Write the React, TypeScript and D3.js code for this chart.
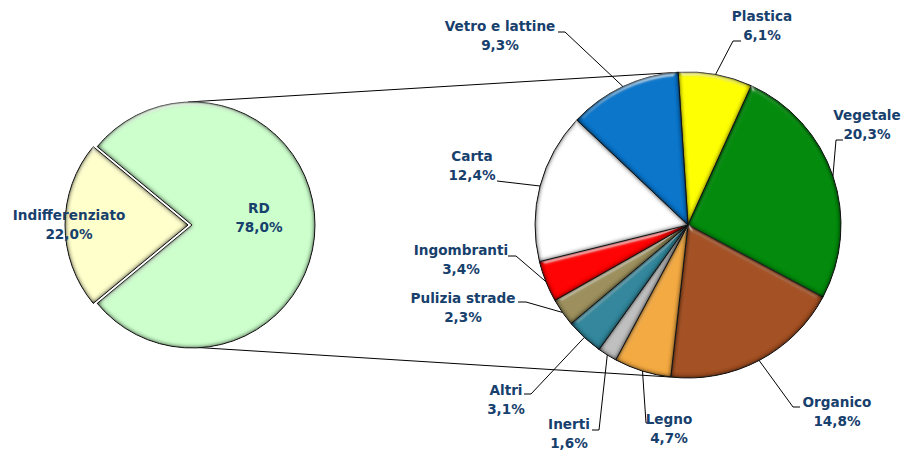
import React from "react";
import * as d3 from "d3";

// ---- data ----
const mainCategories = ["RD", "Indifferenziato"];
const mainValues = [78.0, 22.0];
const mainColors = ["#CCFFCC", "#FFFFCC"];

const detailCategories = [
  "Plastica",
  "Vegetale",
  "Organico",
  "Legno",
  "Inerti",
  "Altri",
  "Pulizia strade",
  "Ingombranti",
  "Carta",
  "Vetro e lattine",
];
const detailValues = [6.1, 20.3, 14.8, 4.7, 1.6, 3.1, 2.3, 3.4, 12.4, 9.3];
const detailColors = [
  "#FFFF00",
  "#008A0B",
  "#A34F22",
  "#F3A941",
  "#BFBFBF",
  "#31869B",
  "#9C8F5C",
  "#FF0000",
  "#FFFFFF",
  "#0874CA",
];

// ---- layout (label anchor positions, not data) ----
const detailLabelPos: [number, number][] = [
  [762, 21],
  [867, 120],
  [837, 407],
  [669, 424],
  [569, 429],
  [506, 395],
  [463, 303],
  [461, 255],
  [472, 161],
  [500, 31],
];
const detailLeaderStart: [number, number][][] = [
  [[741, 41], [733, 41]],
  [[843, 140], [836, 140]],
  [[800, 407], [793, 407]],
  [[649, 423], [646, 423]],
  [[592, 430], [599, 430]],
  [[524, 394], [531, 394]],
  [[518, 302], [526, 302]],
  [[508, 256], [516, 256]],
  [[497, 181]],
  [[558, 32], [565, 32]],
];
const mainLabelPos: [number, number][] = [
  [259, 213],
  [69, 220],
];

const W = 906;
const H = 453;
const textColor = "#17406D";
const fmt = (v: number) => d3.format(".1f")(v).replace(".", ",") + "%";
const deg = Math.PI / 180;

export default function App() {
  // left pie
  const lcx = 188, lcy = 225, lr = 123;
  const lIndiffSpan = (mainValues[1] / d3.sum(mainValues)) * 360;
  const leftPie = d3
    .pie<number>()
    .sort(null)
    .value((d) => d)
    .startAngle((90 - (360 - lIndiffSpan) / 2) * deg)
    .endAngle((90 - (360 - lIndiffSpan) / 2 + 360) * deg)(mainValues);
  const leftArc = d3.arc<d3.PieArcDatum<number>>().innerRadius(0).outerRadius(lr);

  // right pie
  const rcx = 688, rcy = 225, rr = 153;
  const rStart = -3.7 * deg;
  const rightPie = d3
    .pie<number>()
    .sort(null)
    .value((d) => d)
    .startAngle(rStart)
    .endAngle(rStart + 2 * Math.PI)(detailValues);
  const rightArc = d3.arc<d3.PieArcDatum<number>>().innerRadius(0).outerRadius(rr);

  const polar = (cx: number, cy: number, r: number, a: number): [number, number] => [
    cx + r * Math.sin(a),
    cy - r * Math.cos(a),
  ];

  // connector lines
  const topL: [number, number] = [lcx, lcy - lr];
  const botL: [number, number] = [lcx + 2, lcy + lr - 1];
  const topR = polar(rcx, rcy, rr, rightPie[0].startAngle);
  const botR = polar(rcx, rcy, rr, rightPie[2].endAngle);

  const line = d3.line();

  return (
    <svg
      width={W}
      height={H}
      style={{ position: "absolute", left: 0, top: 0, background: "#fff" }}
      fontFamily="'DejaVu Sans', Verdana, sans-serif"
      fontWeight="bold"
      fontSize={13.6}
    >
      <defs>
        <filter id="bevel" x="-10%" y="-10%" width="120%" height="120%" colorInterpolationFilters="sRGB">
          <feGaussianBlur in="SourceAlpha" stdDeviation="2.6" result="blur" />
          <feComposite in="SourceAlpha" in2="blur" operator="arithmetic" k1="0" k2="1.8" k3="-1.8" k4="0" result="edge" />
          <feFlood floodColor="#000" floodOpacity="0.6" result="dark" />
          <feComposite in="dark" in2="edge" operator="in" result="inner" />
          <feSpecularLighting in="blur" surfaceScale="3" specularConstant="0.6" specularExponent="25" lightingColor="#ffffff" result="spec">
            <feDistantLight azimuth="260" elevation="30" />
          </feSpecularLighting>
          <feComposite in="spec" in2="SourceAlpha" operator="in" result="specIn" />
          <feMerge>
            <feMergeNode in="SourceGraphic" />
            <feMergeNode in="inner" />
            <feMergeNode in="specIn" />
          </feMerge>
        </filter>
      </defs>

      {/* connector lines */}
      <path d={line([topL, topR]) || ""} stroke="#000" strokeWidth={1} fill="none" />
      <path d={line([botL, botR]) || ""} stroke="#000" strokeWidth={1} fill="none" />

      {/* left pie */}
      {leftPie.map((p, i) => {
        const mid = (p.startAngle + p.endAngle) / 2;
        const off = i === 0 ? 4 : 0;
        const [dx, dy] = [off * Math.sin(mid), -off * Math.cos(mid)];
        return (
          <path
            key={mainCategories[i]}
            d={leftArc(p) || ""}
            transform={`translate(${lcx + dx},${lcy + dy})`}
            fill={mainColors[i]}
            stroke="#222"
            strokeWidth={1}
            filter="url(#bevel)"
          />
        );
      })}

      {/* right pie */}
      {rightPie.map((p, i) => (
        <path
          key={detailCategories[i]}
          d={rightArc(p) || ""}
          transform={`translate(${rcx},${rcy})`}
          fill={detailColors[i]}
          stroke="#222"
          strokeWidth={1}
          filter="url(#bevel)"
        />
      ))}

      {/* leader lines */}
      {rightPie.map((p, i) => {
        const mid = (p.startAngle + p.endAngle) / 2;
        const end = polar(rcx, rcy, rr, mid);
        const pts = [...detailLeaderStart[i], end] as [number, number][];
        return (
          <path key={"l" + i} d={line(pts) || ""} stroke="#000" strokeWidth={1} fill="none" />
        );
      })}

      {/* detail labels */}
      {detailCategories.map((c, i) => (
        <text key={"t" + i} x={detailLabelPos[i][0]} y={detailLabelPos[i][1]} textAnchor="middle" fill={textColor}>
          <tspan x={detailLabelPos[i][0]}>{c}</tspan>
          <tspan x={detailLabelPos[i][0]} dy={19}>{fmt(detailValues[i])}</tspan>
        </text>
      ))}

      {/* main labels */}
      {mainCategories.map((c, i) => (
        <text key={"m" + i} x={mainLabelPos[i][0]} y={mainLabelPos[i][1]} textAnchor="middle" fill={textColor}>
          <tspan x={mainLabelPos[i][0]}>{c}</tspan>
          <tspan x={mainLabelPos[i][0]} dy={19}>{fmt(mainValues[i])}</tspan>
        </text>
      ))}
    </svg>
  );
}
